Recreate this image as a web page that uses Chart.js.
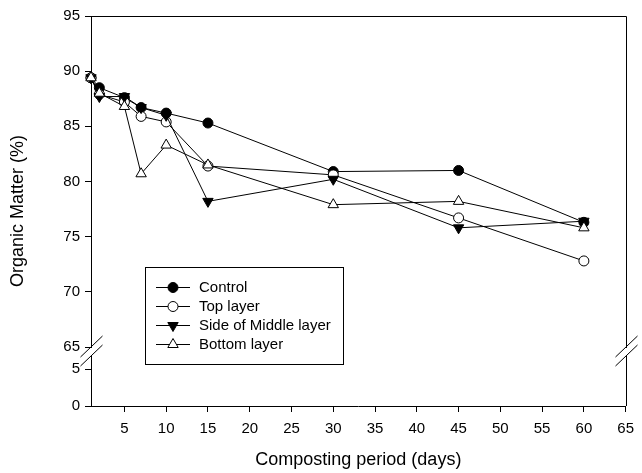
<!DOCTYPE html>
<html>
<head>
<meta charset="utf-8">
<script src="https://cdn.jsdelivr.net/npm/chart.js@4/dist/chart.umd.min.js"></script>
<style>
    html, body { margin: 0; padding: 0; background: #fff; }
    #contenedor { width: 642px; height: 473px; }
</style>
</head>
<body>
<div id="contenedor"><canvas id="grafica"></canvas></div>
<script>
const dias = [1, 2, 5, 7, 10, 15, 30, 45, 60];
const control = [89.4, 88.5, 87.6, 86.7, 86.2, 85.3, 80.9, 81.0, 76.3];
const capaSuperior = [89.4, 87.9, 87.2, 85.9, 85.4, 81.4, 80.6, 76.7, 72.8];
const ladoCapaMedia = [89.4, 87.7, 87.7, 86.7, 86.0, 78.2, 80.2, 75.8, 76.4];
const capaInferior = [89.4, 88.0, 86.8, 80.7, 83.3, 81.5, 77.9, 78.2, 75.8];

const marcasX = [5, 10, 15, 20, 25, 30, 35, 40, 45, 50, 55, 60, 65];
const marcasYSuperior = [65, 70, 75, 80, 85, 90, 95];
const marcasYInferior = [0, 5];

const fuente = "Arial, 'Liberation Sans', sans-serif";
Chart.defaults.font.family = fuente;
Chart.defaults.color = "#000";

const series = [
    { etiqueta: "Control", valores: control, estilo: "circle", relleno: "#000", radio: 5, rotacion: 0 },
    { etiqueta: "Top layer", valores: capaSuperior, estilo: "circle", relleno: "#fff", radio: 5, rotacion: 0 },
    { etiqueta: "Side of Middle layer", valores: ladoCapaMedia, estilo: "triangle", relleno: "#000", radio: 6, rotacion: 180 },
    { etiqueta: "Bottom layer", valores: capaInferior, estilo: "triangle", relleno: "#fff", radio: 6, rotacion: 0 },
];

// marco superior/derecho y cortes del eje
const cortes = {
    id: "cortes",
    afterDraw(chart) {
        const { ctx, chartArea: area, scales } = chart;
        const yCorte = Math.round(scales.y.getPixelForValue(65));
        const der = Math.round(area.right) + 0.5;
        const izq = Math.round(area.left) + 0.5;
        ctx.save();
        ctx.strokeStyle = "#000";
        ctx.lineWidth = 1;
        ctx.beginPath();
        ctx.moveTo(izq, Math.round(area.top) + 0.5);
        ctx.lineTo(der, Math.round(area.top) + 0.5);
        ctx.lineTo(der, area.bottom);
        ctx.stroke();
        [izq, der].forEach((x) => {
            ctx.fillStyle = "#fff";
            ctx.fillRect(x - 2, yCorte + 1, 4, 8);
            ctx.beginPath();
            ctx.moveTo(x - 11, yCorte + 10);
            ctx.lineTo(x + 11, yCorte - 11);
            ctx.moveTo(x - 11, yCorte + 19);
            ctx.lineTo(x + 11, yCorte - 2);
            ctx.stroke();
        });
        ctx.restore();
    },
};

// título del eje Y centrado sobre todo el eje
const tituloY = {
    id: "tituloY",
    afterDraw(chart) {
        const { ctx, chartArea: area } = chart;
        ctx.save();
        ctx.translate(18, (area.top + area.bottom) / 2);
        ctx.rotate(-Math.PI / 2);
        ctx.font = "18px " + fuente;
        ctx.fillStyle = "#000";
        ctx.textAlign = "center";
        ctx.textBaseline = "middle";
        ctx.fillText("Organic Matter (%)", 0, 0);
        ctx.restore();
    },
};

// leyenda dentro del área de la gráfica
const leyenda = {
    id: "leyenda",
    afterDraw(chart) {
        const { ctx } = chart;
        ctx.save();
        ctx.lineWidth = 1;
        ctx.strokeStyle = "#000";
        ctx.fillStyle = "#fff";
        ctx.fillRect(145.5, 267.5, 198, 97);
        ctx.strokeRect(145.5, 267.5, 198, 97);
        chart.data.datasets.forEach((ds, i) => {
            const y = 287 + i * 19;
            ctx.strokeStyle = "#000";
            ctx.beginPath();
            ctx.moveTo(156, y + 0.5);
            ctx.lineTo(190, y + 0.5);
            ctx.stroke();
            ctx.fillStyle = ds.pointBackgroundColor;
            Chart.helpers.drawPoint(ctx, {
                pointStyle: ds.pointStyle,
                radius: ds.pointRadius,
                rotation: ds.pointRotation,
                borderWidth: 1,
            }, 173, y + 0.5);
            ctx.fillStyle = "#000";
            ctx.font = "15px " + fuente;
            ctx.textBaseline = "middle";
            ctx.fillText(ds.label, 199, y + 1);
        });
        ctx.restore();
    },
};

const ejeY = (extra) => Object.assign({
    type: "linear",
    position: "left",
    stack: "izquierda",
    grid: { drawOnChartArea: false, tickLength: 6, tickColor: "#000" },
    border: { color: "#000", width: 1 },
    ticks: { font: { size: 15 }, padding: 5 },
    afterFit: (eje) => { eje.width = 91; },
}, extra);

const ctx = document.getElementById("grafica");
const grafica = new Chart(ctx, {
    type: "line",
    data: {
        datasets: series.map((s, i) => ({
            label: s.etiqueta,
            data: dias.map((d, j) => ({ x: d, y: s.valores[j] })),
            borderColor: "#000",
            borderWidth: 1,
            pointStyle: s.estilo,
            pointRadius: s.radio,
            pointRotation: s.rotacion,
            pointBackgroundColor: s.relleno,
            pointBorderColor: "#000",
            pointBorderWidth: 1,
            tension: 0,
            clip: false,
            order: series.length - i,
            yAxisID: "y",
        })),
    },
    options: {
        responsive: true,
        maintainAspectRatio: false,
        animation: false,
        events: [],
        layout: { padding: { top: 16, right: 9, left: 0, bottom: 0 } },
        plugins: { legend: { display: false }, tooltip: { enabled: false } },
        scales: {
            x: {
                type: "linear",
                min: 1,
                max: 65,
                afterBuildTicks: (eje) => { eje.ticks = marcasX.map((v) => ({ value: v })); },
                afterFit: (eje) => { eje.height = 67; },
                grid: { drawOnChartArea: false, tickLength: 6, tickColor: "#000" },
                border: { color: "#000", width: 1 },
                ticks: { font: { size: 15 }, padding: 8, maxRotation: 0, autoSkip: false },
                title: { display: true, text: "Composting period (days)", font: { size: 18 }, padding: { top: 0, bottom: 2 } },
            },
            yInferior: ejeY({
                min: 0,
                max: 8,
                stackWeight: 59,
                afterBuildTicks: (eje) => { eje.ticks = marcasYInferior.map((v) => ({ value: v })); },
            }),
            y: ejeY({
                min: 65,
                max: 95,
                stackWeight: 331,
                afterBuildTicks: (eje) => { eje.ticks = marcasYSuperior.map((v) => ({ value: v })); },
            }),
        },
    },
    plugins: [cortes, tituloY, leyenda],
});
</script>
</body>
</html>
